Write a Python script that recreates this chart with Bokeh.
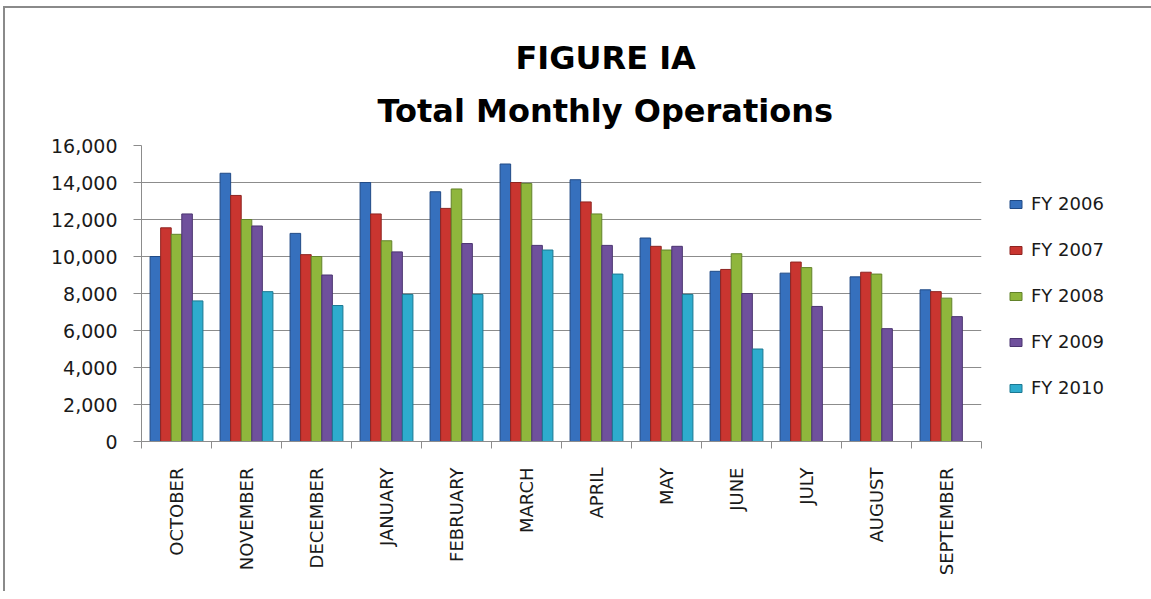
import math
from bokeh.plotting import figure
from bokeh.models import (Range1d, FixedTicker, NumeralTickFormatter, Legend, LegendItem,
                          Title, ColumnDataSource)
from bokeh.embed import file_html
from bokeh.resources import INLINE

months = ["OCTOBER", "NOVEMBER", "DECEMBER", "JANUARY", "FEBRUARY", "MARCH",
          "APRIL", "MAY", "JUNE", "JULY", "AUGUST", "SEPTEMBER"]
series_names = ["FY 2006", "FY 2007", "FY 2008", "FY 2009", "FY 2010"]
fy2006 = [10000, 14500, 11250, 14000, 13500, 15000, 14150, 11000, 9200, 9100, 8900, 8200]
fy2007 = [11550, 13300, 10100, 12300, 12600, 14000, 12950, 10550, 9300, 9700, 9150, 8100]
fy2008 = [11200, 12000, 10000, 10850, 13650, 13950, 12300, 10350, 10150, 9400, 9050, 7750]
fy2009 = [12300, 11650, 9000, 10250, 10700, 10600, 10600, 10550, 8000, 7300, 6100, 6750]
fy2010 = [7600, 8100, 7350, 7950, 7950, 10350, 9050, 7950, 5000, None, None, None]
y_ticks = [0, 2000, 4000, 6000, 8000, 10000, 12000, 14000, 16000]

series = [fy2006, fy2007, fy2008, fy2009, fy2010]
colors = ["#3670bd", "#c93530", "#8fb63c", "#6f509c", "#2eaccd"]
edges = ["#204a86", "#8e2420", "#62822a", "#4b3470", "#1b7892"]

p = figure(output_backend="svg", toolbar_location=None,
           frame_width=840, frame_height=296,
           min_border_left=136, min_border_right=165,
           min_border_top=137, min_border_bottom=150,
           x_range=Range1d(0, len(months)), y_range=Range1d(0, 16000))
p.outline_line_color = None
p.background_fill_color = "white"
p.border_fill_color = "white"
p.styles = {"border-left": "2px solid #8a8a8a", "border-top": "2px solid #8a8a8a",
            "margin-left": "3px", "margin-top": "6px"}

bw = 0.151
items = []
for k, (name, vals, c, e) in enumerate(zip(series_names, series, colors, edges)):
    xs, tops = [], []
    for i, v in enumerate(vals):
        if v is None:
            continue
        xs.append(i + 0.5 + (k - 2) * bw)
        tops.append(v)
    src = ColumnDataSource(dict(x=xs, top=tops))
    r = p.vbar(x="x", top="top", bottom=0, width=bw, source=src,
               fill_color=c, line_color=e, line_width=1)
    items.append(LegendItem(label=name, renderers=[r]))

# axes
p.xgrid.grid_line_color = None
p.ygrid.grid_line_color = "#8c8c8c"
p.ygrid.grid_line_width = 1

p.yaxis.ticker = FixedTicker(ticks=y_ticks)
p.yaxis.formatter = NumeralTickFormatter(format="0,0")
p.yaxis.axis_line_color = "#8c8c8c"
p.yaxis.major_tick_line_color = "#8c8c8c"
p.yaxis.major_tick_out = 8
p.yaxis.major_tick_in = 0
p.yaxis.minor_tick_line_color = None
p.yaxis.major_label_standoff = 16
p.yaxis.major_label_text_font = "DejaVu Sans"
p.yaxis.major_label_text_font_size = "19px"
p.yaxis.major_label_text_color = "#1a1a1a"

p.xaxis.ticker = FixedTicker(ticks=[i + 0.5 for i in range(len(months))],
                             minor_ticks=list(range(len(months) + 1)))
p.xaxis.major_label_overrides = {i + 0.5: m for i, m in enumerate(months)}
p.xaxis.axis_line_color = "#8c8c8c"
p.xaxis.major_tick_line_color = None
p.xaxis.major_tick_out = 0
p.xaxis.major_tick_in = 0
p.xaxis.minor_tick_line_color = "#8c8c8c"
p.xaxis.minor_tick_out = 7
p.xaxis.minor_tick_in = 0
p.xaxis.major_label_orientation = math.pi / 2
p.xaxis.major_label_standoff = 19
p.xaxis.major_label_text_font = "DejaVu Sans"
p.xaxis.major_label_text_font_size = "18px"
p.xaxis.major_label_text_color = "#1a1a1a"

legend = Legend(items=items, location=(27, 43), orientation="vertical",
                label_text_font="DejaVu Sans", label_text_font_size="18px",
                label_text_color="#1a1a1a", glyph_width=15, glyph_height=10,
                label_height=20, spacing=25, padding=0, margin=0,
                label_standoff=8, border_line_color=None, background_fill_alpha=0)
p.add_layout(legend, "right")

p.add_layout(Title(text="Total Monthly Operations", align="left", offset=236,
                   standoff=32, text_font="DejaVu Sans", text_font_style="bold",
                   text_font_size="32px", text_color="black"), "above")
p.add_layout(Title(text="FIGURE IA", align="left", offset=374,
                   standoff=-6, text_font="DejaVu Sans", text_font_style="bold",
                   text_font_size="32px", text_color="black"), "above")

open("out.html", "w").write(file_html(p, INLINE))
